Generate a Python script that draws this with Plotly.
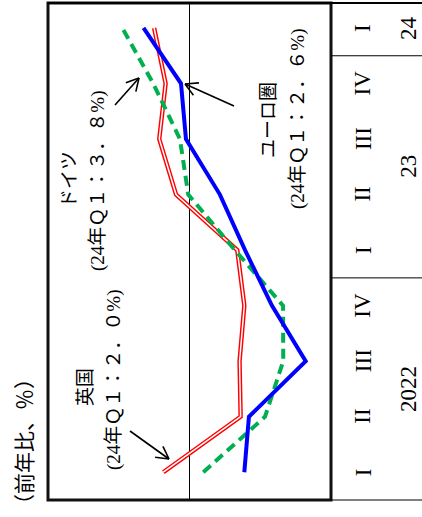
import math
import plotly.graph_objects as go

# ---- data ----
quarters = ["I", "II", "III", "IV", "I", "II", "III", "IV", "I"]
years = ["2022", "23", "24"]
uk = [1.48, -2.89, -2.83, -3.10, -2.70, 0.76, 1.71, 1.35, 2.0]
euro = [-3.10, -3.36, -6.57, -4.66, -3.14, -1.72, 0.20, 0.48, 2.6]
germany = [-0.78, -4.27, -5.30, -5.29, -2.57, 0.07, 0.54, 2.05, 3.8]

W, H = 422, 517
L, R, T, B = 48, 331, 3, 500

def px_x(p):
    return (p - L) / (R - L)

def px_y(p):
    return (B - p) / (B - T)

idx = list(range(len(quarters)))

fig = go.Figure()
# UK: red double line
fig.add_trace(go.Scatter(x=uk, y=idx, mode="lines",
                         line=dict(color="#ff0000", width=4.4), hoverinfo="skip"))
fig.add_trace(go.Scatter(x=uk, y=idx, mode="lines",
                         line=dict(color="#ffffff", width=1.5), hoverinfo="skip"))
# Germany: green dashed
fig.add_trace(go.Scatter(x=germany, y=idx, mode="lines",
                         line=dict(color="#00b050", width=4, dash="10px,6px"), hoverinfo="skip"))
# Euro area: blue
fig.add_trace(go.Scatter(x=euro, y=idx, mode="lines",
                         line=dict(color="#0000ff", width=4), hoverinfo="skip"))

shapes = []
# zero line
shapes.append(dict(type="line", xref="x", yref="paper", x0=0, x1=0, y0=0, y1=1,
                   line=dict(color="black", width=1), layer="below"))
# plot border
shapes.append(dict(type="rect", xref="paper", yref="paper", x0=0, x1=1, y0=0, y1=1,
                   line=dict(color="#111111", width=3)))
# label area lines
xr = px_x(W)
shapes.append(dict(type="line", xref="paper", yref="paper", x0=0, x1=xr, y0=1, y1=1,
                   line=dict(color="black", width=2)))
shapes.append(dict(type="line", xref="paper", yref="paper", x0=1, x1=xr, y0=0, y1=0,
                   line=dict(color="black", width=1)))
for yb in (3.5, 7.5):
    shapes.append(dict(type="line", xref="paper", yref="y", x0=1, x1=xr, y0=yb, y1=yb,
                       line=dict(color="black", width=1)))

# arrows (tail -> head, in pixels)
arrows = [((115, 105), (139, 78)), ((234, 106), (185, 84)), ((130, 431), (169, 459))]
for (tx, ty), (hx, hy) in arrows:
    shapes.append(dict(type="line", xref="paper", yref="paper",
                       x0=px_x(tx), y0=px_y(ty), x1=px_x(hx), y1=px_y(hy),
                       line=dict(color="black", width=1.6)))
    ang = math.atan2(ty - hy, tx - hx)
    for d in (0.5, -0.5):
        ex = hx + 14 * math.cos(ang + d)
        ey = hy + 14 * math.sin(ang + d)
        shapes.append(dict(type="line", xref="paper", yref="paper",
                           x0=px_x(hx), y0=px_y(hy), x1=px_x(ex), y1=px_y(ey),
                           line=dict(color="black", width=1.6)))

FONT = "Liberation Serif, Noto Sans CJK JP, serif"
annotations = []

def txt(s, x, y, size=19):
    annotations.append(dict(text=s, xref="paper", yref="paper", x=px_x(x), y=px_y(y),
                            showarrow=False, textangle=-90, xanchor="center", yanchor="middle",
                            font=dict(family=FONT, size=size, color="black")))

txt("ドイツ", 69, 180)
txt("(24年Ｑ１：３．８%)", 98, 181)
txt("ユーロ圏", 268, 120)
txt("(24年Ｑ１：２．６%)", 298, 119)
txt("英国", 85, 387)
txt("(24年Ｑ１：２．０%)", 114, 380)
txt("（前年比、％）", 25, 442, size=21)

for i, q in enumerate(quarters):
    annotations.append(dict(text=q, xref="paper", yref="y", x=px_x(363), y=i,
                            showarrow=False, textangle=-90, xanchor="center", yanchor="middle",
                            font=dict(family="Liberation Serif, serif", size=23, color="black")))
year_pos = [1.5, 5.5, 8]
for yl, yp in zip(years, year_pos):
    annotations.append(dict(text=yl, xref="paper", yref="y", x=px_x(409), y=yp,
                            showarrow=False, textangle=-90, xanchor="center", yanchor="middle",
                            font=dict(family="Liberation Serif, serif", size=23, color="black")))

fig.update_layout(
    width=W, height=H,
    margin=dict(l=L, r=W - R, t=T, b=H - B),
    paper_bgcolor="white", plot_bgcolor="white",
    showlegend=False,
    xaxis=dict(range=[8, -8], showgrid=False, zeroline=False, showticklabels=False, ticks=""),
    yaxis=dict(range=[-0.5, 8.45], showgrid=False, zeroline=False, showticklabels=False, ticks=""),
    shapes=shapes, annotations=annotations,
)
fig.write_html("out.html", config={"displayModeBar": False},
               post_script="document.body.style.margin='0';document.body.style.overflow='hidden';")
